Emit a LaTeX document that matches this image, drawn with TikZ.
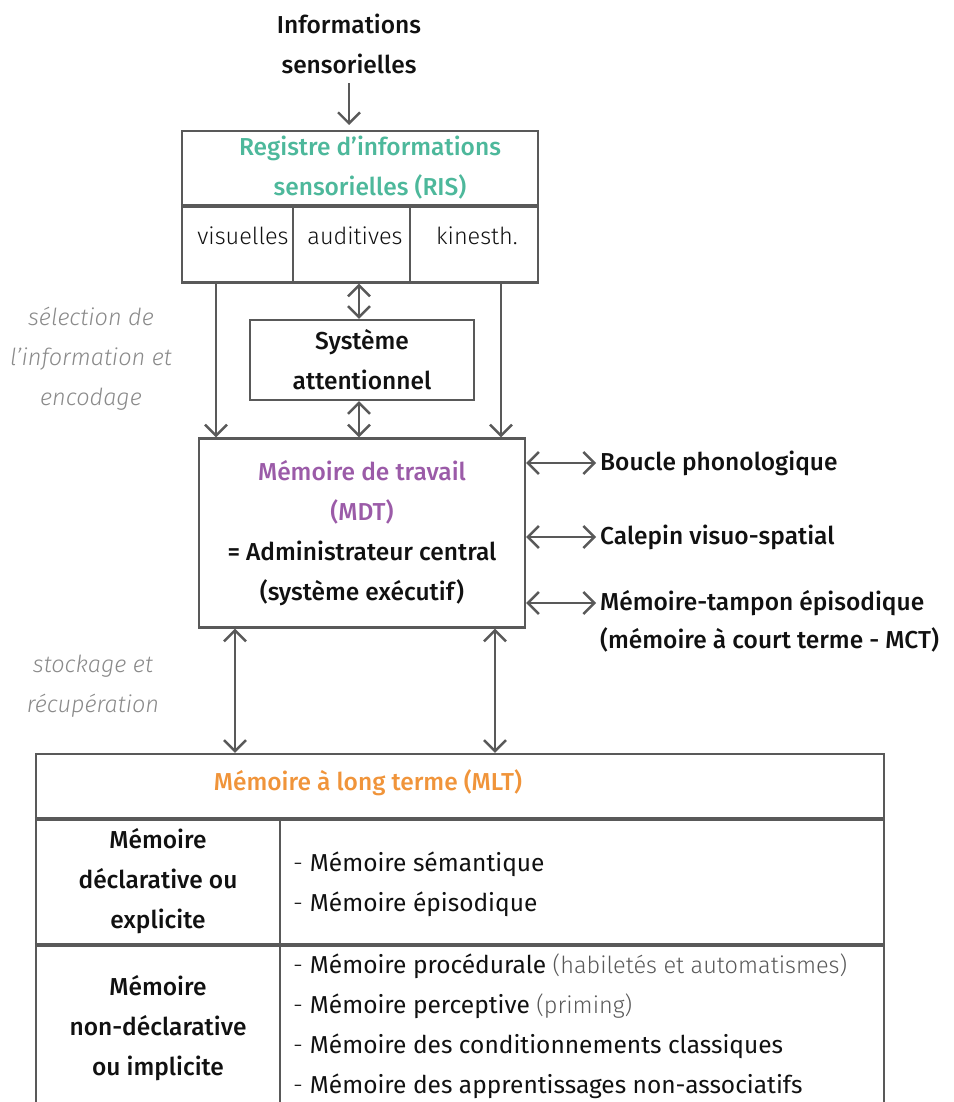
\documentclass[tikz,border=0pt]{standalone}
\usepackage{fontspec}
\setmainfont{Fira Sans}[UprightFont=* Medium, ItalicFont=* Medium Italic, BoldFont=* SemiBold]
\newfontfamily\lightff{Fira Sans Light}[ItalicFont=* Italic]
\newfontfamily\regff{Fira Sans}
\usetikzlibrary{arrows.meta}
\definecolor{lc}{HTML}{595959}
\definecolor{tc}{HTML}{111111}
\definecolor{teal}{HTML}{4DB89B}
\definecolor{mpurple}{HTML}{9B5BA8}
\definecolor{morange}{HTML}{F0943A}
\definecolor{gtext}{HTML}{8A8A8A}
\newcommand\dfs{\fontsize{24.5pt}{40pt}\selectfont}
\newcommand\lfs{\fontsize{23.5pt}{40pt}\selectfont}
\begin{document}
\begin{tikzpicture}[x=1pt,y=-1pt,
  >={Straight Barb[length=11pt,width=22pt]},
  arr/.style={draw=lc, line width=2.4pt},
  box/.style={draw=lc, line width=2.4pt, rectangle, inner sep=0pt},
  sep/.style={draw=lc, line width=3.6pt},
  txt/.style={font=\dfs, align=center, text=tc, inner sep=0pt},
  ltxt/.style={font=\lfs\lightff, text=tc, inner sep=0pt},
  gtxt/.style={font=\lfs\lightff\itshape, align=center, text=gtext, inner sep=0pt},
  lbl/.style={font=\dfs, text=tc, inner xsep=4pt, inner ysep=0pt, anchor=west}]
\useasboundingbox (0,0) rectangle (953,1102);
\clip (0,0) rectangle (953,1102);

% top input
\node[txt] (info) at (349,44) {Informations\\sensorielles};
% RIS
\node[box, minimum width=356, minimum height=74, txt, text=teal] (ris) at (360,168) {\hspace*{20pt}Registre d’informations\\\hspace*{20pt}sensorielles (RIS)};
\node[box, minimum width=111, minimum height=77] (vis) at (237.5,244) {};
\node[box, minimum width=117, minimum height=77] (aud) at (351.5,244) {};
\node[box, minimum width=128, minimum height=77] (kin) at (474,244) {};
\draw[sep] (ris.south west) -- (ris.south east);
\node[ltxt] (visT) at (243,236) {visuelles};
\node[ltxt] (audT) at (355,236) {auditives};
\node[ltxt] (kinT) at (477,236) {kinesth.};

\draw[arr,->] ([yshift=-9pt]info.south) -- ([yshift=-9pt]info.south |- 0,116);

% attention system
\node[box, minimum width=224, minimum height=80, txt] (sys) at (362,360) {Système\\attentionnel};

% MDT
\node[box, minimum width=326, minimum height=189, txt] (mdt) at (362,533)
  {\textcolor{mpurple}{Mémoire de travail}\\\textcolor{mpurple}{(MDT)}\\= Administrateur central\\(système exécutif)};

% arrows RIS -> MDT
\draw[arr,->] ([xshift=-21.5pt]vis.south) -- ([xshift=-21.5pt]vis.south |- mdt.north);
\draw[arr,->] ([xshift=27pt]kin.south) -- ([xshift=27pt]kin.south |- mdt.north);
\draw[arr,<->] ([xshift=7.5pt]aud.south) -- ([xshift=-3pt]sys.north);
\draw[arr,<->] ([xshift=-3pt]sys.south) -- ([xshift=-3pt]mdt.north);

% side components
\node[lbl] (boucle) at (596,463) {Boucle phonologique};
\node[lbl] (calepin) at (596,537) {Calepin visuo-spatial};
\node[lbl] (tampon) at (596,603) {Mémoire-tampon épisodique};
\node[lbl] (mct) at (596,640) {(mémoire à court terme - MCT)};
\draw[arr,<->] (mdt.east |- boucle) -- (boucle.west);
\draw[arr,<->] (mdt.east |- calepin) -- (calepin.west);
\draw[arr,<->] (mdt.east |- tampon) -- (tampon.west);

% grey side notes
\node[gtxt] (selT) at (91,359) {sélection de\\l’information et\\encodage};
\node[gtxt] (stoT) at (93,686) {stockage et\\récupération};

% MLT table
\node[box, minimum width=848, minimum height=64] (mlt) at (460,786) {};
\node[txt, text=morange] (mltT) at (368,783) {Mémoire à long terme (MLT)};
\node[box, minimum width=244, minimum height=126, txt] (decl) at (158,881) {Mémoire\\déclarative ou\\explicite};
\node[box, minimum width=604, minimum height=126] (declR) at (582,881) {};
\node[box, minimum width=244, minimum height=168, txt] (ndecl) at (158,1028) {Mémoire\\non-déclarative\\ou implicite};
\node[box, minimum width=604, minimum height=168] (ndeclR) at (582,1028) {};
\draw[sep] (mlt.south west) -- (mlt.south east);
\draw[sep] (decl.south west) -- (declR.south east);

\node[txt, font=\dfs\regff, align=left, anchor=west] (declL) at (293,884)
  {{\lightff- }Mémoire sémantique\\{\lightff- }Mémoire épisodique};
\node[txt, font=\dfs\regff, align=left, anchor=west] (ndeclL) at (293,1026)
  {{\lightff- }Mémoire procédurale {\lfs\lightff\color{lc}(habiletés et automatismes)}\\
   {\lightff- }Mémoire perceptive {\lfs\lightff\color{lc}(priming)}\\
   {\lightff- }Mémoire des conditionnements classiques\\
   {\lightff- }Mémoire des apprentissages non-associatifs};

\draw[arr,<->] ([xshift=-127pt]mdt.south) -- ([xshift=-127pt]mdt.south |- mlt.north);
\draw[arr,<->] ([xshift=133pt]mdt.south) -- ([xshift=133pt]mdt.south |- mlt.north);
\end{tikzpicture}
\end{document}
